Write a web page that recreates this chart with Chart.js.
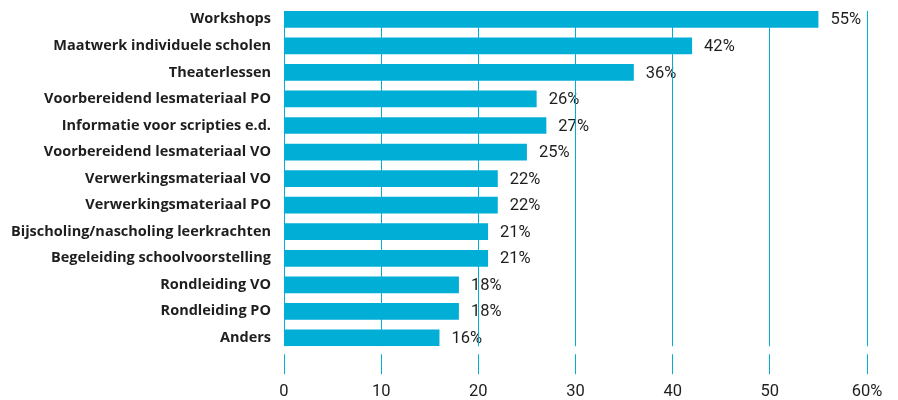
<!DOCTYPE html>
<html>
<head>
<meta charset="utf-8">
<script src="https://cdn.jsdelivr.net/npm/chart.js@4.4.1/dist/chart.umd.min.js"></script>
<style>
html,body{margin:0;padding:0;background:#fff;}
#wrap{width:898px;height:400px;position:relative;}
</style>
</head>
<body>
<div id="wrap"><canvas id="c"></canvas></div>
<script>
const categories = [
  "Workshops",
  "Maatwerk individuele scholen",
  "Theaterlessen",
  "Voorbereidend lesmateriaal PO",
  "Informatie voor scripties e.d.",
  "Voorbereidend lesmateriaal VO",
  "Verwerkingsmateriaal VO",
  "Verwerkingsmateriaal PO",
  "Bijscholing/nascholing leerkrachten",
  "Begeleiding schoolvoorstelling",
  "Rondleiding VO",
  "Rondleiding PO",
  "Anders"
];
const values = [55, 42, 36, 26, 27, 25, 22, 22, 21, 21, 18, 18, 16];
const tickValues = [0, 10, 20, 30, 40, 50, 60];

const BAR = '#00aed6';
const TEXT = '#1e1e1e';

const valueLabels = {
  id: 'valueLabels',
  afterDatasetsDraw(chart) {
    const ctx = chart.ctx;
    const meta = chart.getDatasetMeta(0);
    ctx.save();
    ctx.font = '400 16.5px Roboto';
    ctx.fillStyle = TEXT;
    ctx.textAlign = 'left';
    ctx.textBaseline = 'middle';
    meta.data.forEach((bar, i) => {
      ctx.fillText(values[i] + '%', bar.x + 12, bar.y + 1);
    });
    ctx.restore();
  }
};

const gapPlugin = {
  id: 'gapPlugin',
  afterDraw(chart) {
    const ctx = chart.ctx;
    const a = chart.chartArea;
    ctx.save();
    ctx.fillStyle = '#fff';
    ctx.fillRect(a.left - 2, a.bottom - 5, a.right - a.left + 6, 8);
    ctx.fillRect(a.left - 2, a.top - 1, a.right - a.left + 6, 6);
    ctx.restore();
  }
};

new Chart(document.getElementById('c'), {
  type: 'bar',
  data: {
    labels: categories,
    datasets: [{
      data: values,
      backgroundColor: BAR,
      borderWidth: 0,
      barPercentage: 0.63,
      categoryPercentage: 1
    }]
  },
  options: {
    indexAxis: 'y',
    responsive: true,
    maintainAspectRatio: false,
    animation: false,
    layout: { padding: { top: 6, right: 31, bottom: -10, left: 0 } },
    plugins: { legend: { display: false }, tooltip: { enabled: false } },
    scales: {
      x: {
        min: 0,
        max: 60,
        afterBuildTicks(scale) { scale.ticks = tickValues.map(v => ({ value: v })); },
        grid: { color: BAR, lineWidth: 1, z: 1, drawTicks: true, tickLength: 23 },
        border: { display: false },
        ticks: {
          color: TEXT,
          font: { family: 'Roboto', size: 16.5, weight: '400' },
          padding: 8,
          callback: (v) => v === 60 ? '60%' : String(v)
        }
      },
      y: {
        afterFit(scale) { scale.width = 284; },
        grid: { display: false, drawTicks: true, tickLength: 13 },
        border: { display: false },
        ticks: {
          color: TEXT,
          font: { family: 'Open Sans', size: 14.5, weight: '700', lineHeight: 0.6 },
          padding: 0
        }
      }
    }
  },
  plugins: [valueLabels, gapPlugin]
});
</script>
</body>
</html>
